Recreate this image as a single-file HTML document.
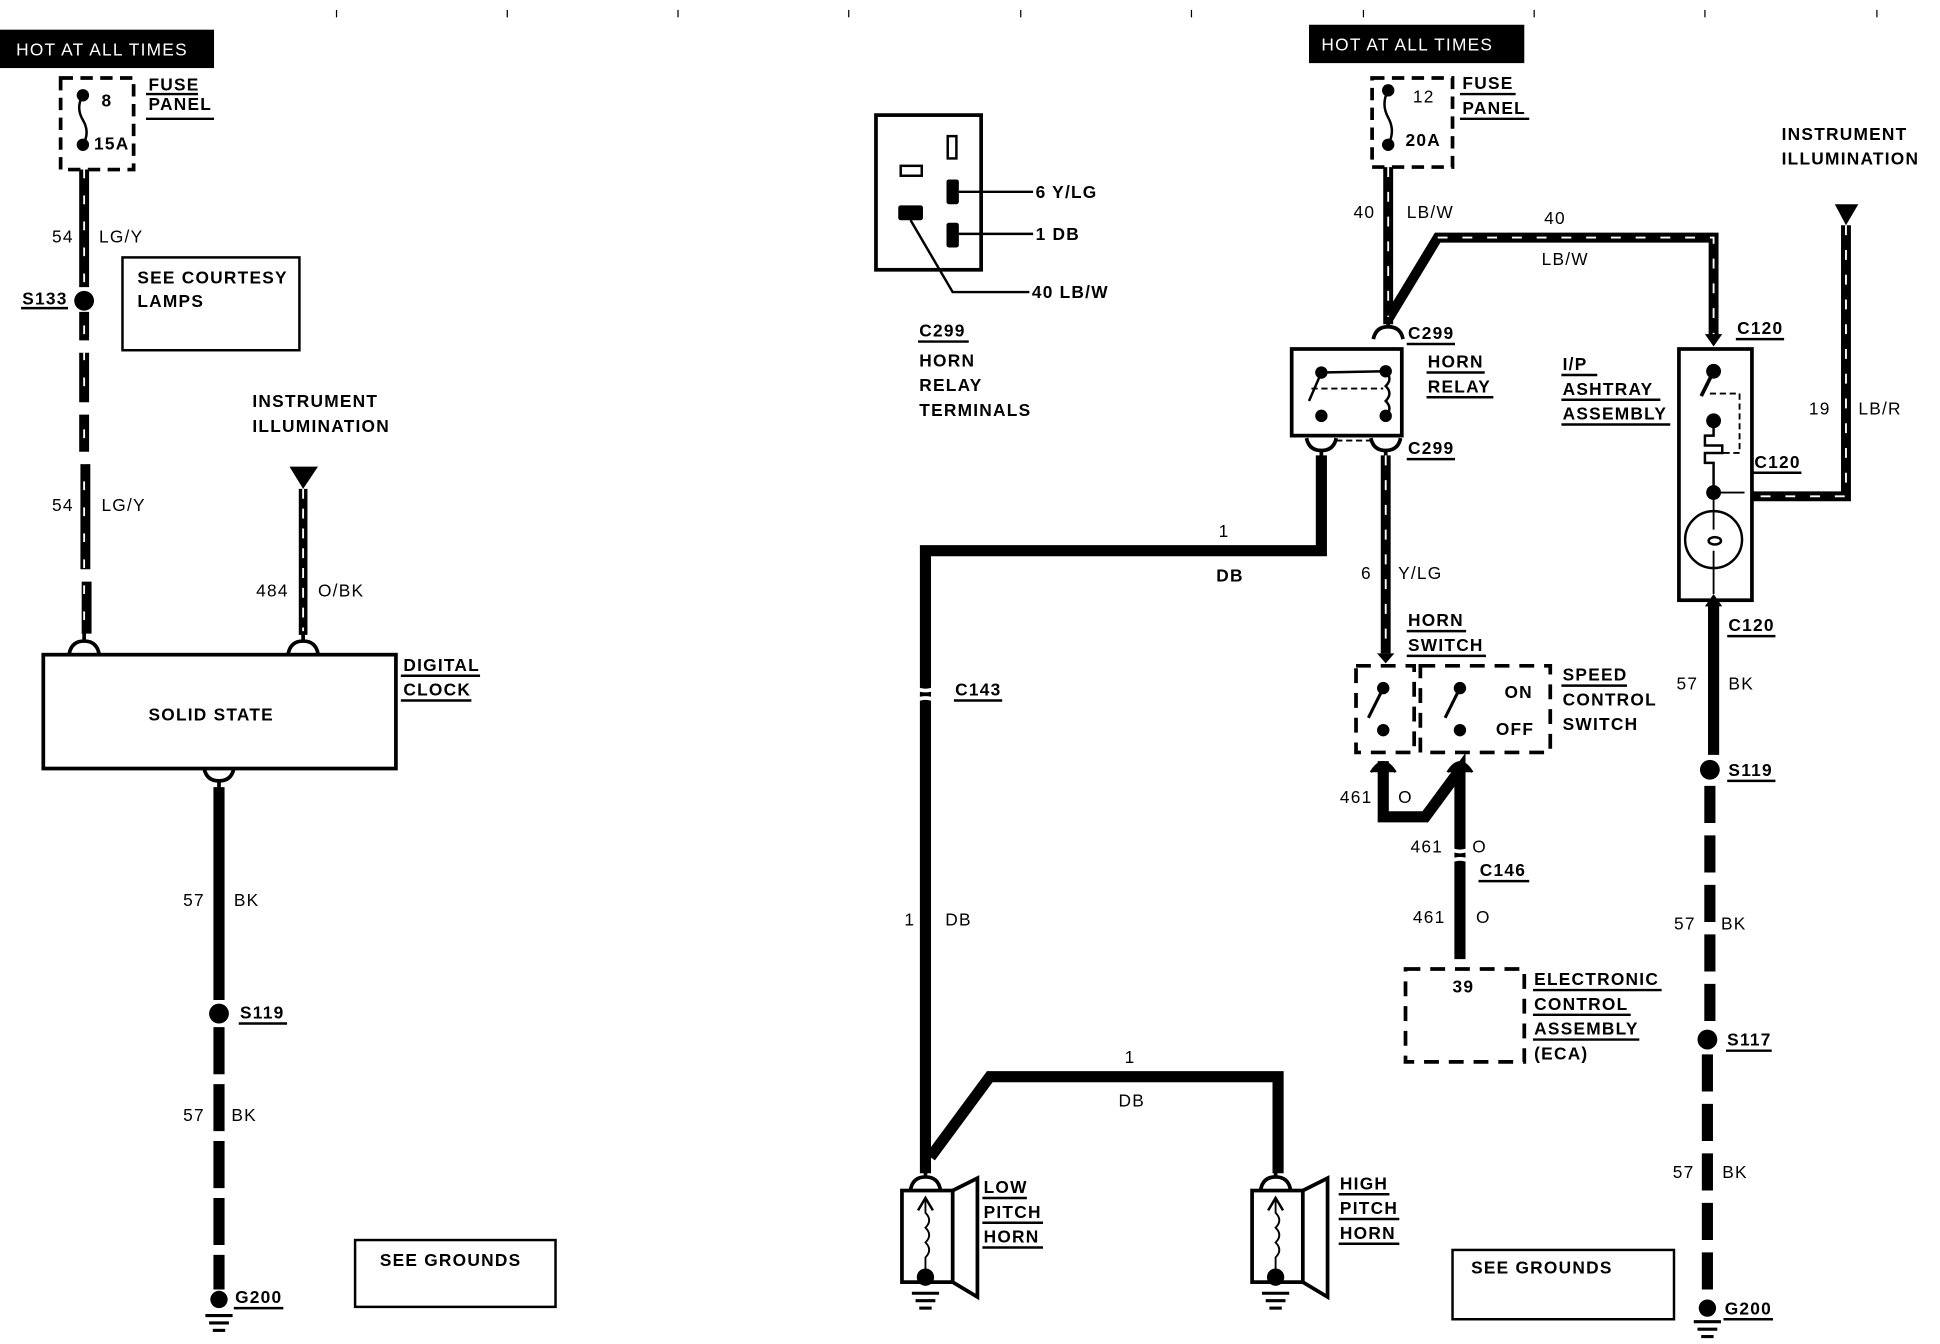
<!DOCTYPE html>
<html><head><meta charset="utf-8"><style>
html,body{margin:0;padding:0;background:#fff;width:1940px;height:1344px;overflow:hidden}
svg{display:block}
text{font-family:"Liberation Sans",Arial,sans-serif;font-weight:bold;font-size:14px;fill:#000;letter-spacing:1px}
.n{font-weight:normal}
</style></head><body>
<svg width="1940" height="1344" viewBox="0 0 1568 1086" preserveAspectRatio="none" xmlns="http://www.w3.org/2000/svg">
<defs>
<g id="gnd"><line x1="-11" y1="0" x2="11" y2="0" stroke="#000" stroke-width="2.5"/><line x1="-8" y1="6" x2="8" y2="6" stroke="#000" stroke-width="2.5"/><line x1="-5" y1="12" x2="5" y2="12" stroke="#000" stroke-width="2.5"/></g>
<path id="conn" d="M-12,6 Q-10,-4 0,-4 Q10,-4 12,6 M0,-4 L0,-12" fill="none" stroke="#000" stroke-width="3"/>
<path id="connu" d="M-12,-6 Q-10,4 0,4 Q10,4 12,-6 M0,4 L0,12" fill="none" stroke="#000" stroke-width="3"/>
</defs>
<g stroke="#000" stroke-width="1">
<line x1="272" y1="8" x2="272" y2="14"/><line x1="410" y1="8" x2="410" y2="14"/><line x1="548" y1="8" x2="548" y2="14"/><line x1="686" y1="8" x2="686" y2="14"/><line x1="825" y1="8" x2="825" y2="14"/><line x1="963" y1="8" x2="963" y2="14"/><line x1="1102" y1="8" x2="1102" y2="14"/><line x1="1240" y1="8" x2="1240" y2="14"/><line x1="1378" y1="8" x2="1378" y2="14"/><line x1="1517" y1="8" x2="1517" y2="14"/>
</g>

<!-- LEFT -->
<rect x="0" y="24" width="173" height="31" fill="#000"/>
<text x="13" y="45" style="fill:#fff" class="n">HOT AT ALL TIMES</text>
<rect x="49" y="63" width="59" height="74" fill="none" stroke="#000" stroke-width="3" stroke-dasharray="10 6"/>
<circle cx="67" cy="77" r="5"/><circle cx="67" cy="117" r="5"/>
<path d="M67,77 q-6,10 0,20 q6,10 0,20" fill="none" stroke="#000" stroke-width="2"/>
<text x="82" y="86">8</text><text x="76" y="121">15A</text>
<text x="120" y="73">FUSE</text><text x="120" y="89">PANEL</text>
<line x1="118" y1="76" x2="160" y2="76" stroke="#000" stroke-width="2"/><line x1="118" y1="96" x2="173" y2="96" stroke="#000" stroke-width="2"/>
<line x1="68" y1="137" x2="68" y2="232" stroke="#000" stroke-width="8"/>
<line x1="68" y1="252" x2="68" y2="275" stroke="#000" stroke-width="8"/>
<line x1="68" y1="285" x2="68" y2="325" stroke="#000" stroke-width="8"/>
<line x1="68" y1="335" x2="68" y2="365" stroke="#000" stroke-width="8"/>
<line x1="69" y1="375" x2="69" y2="460" stroke="#000" stroke-width="8"/>
<line x1="70" y1="470" x2="70" y2="512" stroke="#000" stroke-width="8"/>
<line x1="68" y1="137" x2="68" y2="512" stroke="#fff" stroke-width="1.5" stroke-dasharray="7 14"/>
<circle cx="68" cy="243" r="8"/>
<text x="42" y="196" class="n">54</text><text x="80" y="196" class="n">LG/Y</text>
<text x="18" y="246">S133</text><line x1="17" y1="249" x2="55" y2="249" stroke="#000" stroke-width="2"/>
<text x="42" y="413" class="n">54</text><text x="82" y="413" class="n">LG/Y</text>
<rect x="99" y="208" width="143" height="75" fill="none" stroke="#000" stroke-width="2"/>
<text x="111" y="229">SEE COURTESY</text><text x="111" y="248">LAMPS</text>
<text x="204" y="329">INSTRUMENT</text><text x="204" y="349">ILLUMINATION</text>
<path d="M234,377 L257,377 L245,395 Z"/>
<line x1="245" y1="395" x2="245" y2="513" stroke="#000" stroke-width="7"/>
<line x1="245" y1="395" x2="245" y2="513" stroke="#fff" stroke-width="1.5" stroke-dasharray="8 8"/>
<text x="207" y="482" class="n">484</text><text x="257" y="482" class="n">O/BK</text>
<use href="#conn" x="68" y="522"/><use href="#conn" x="245" y="522"/>
<rect x="35" y="529" width="285" height="92" fill="none" stroke="#000" stroke-width="3"/>
<text x="120" y="582">SOLID STATE</text>
<text x="326" y="542">DIGITAL</text><text x="326" y="562">CLOCK</text>
<line x1="324" y1="546" x2="388" y2="546" stroke="#000" stroke-width="2"/><line x1="324" y1="566" x2="381" y2="566" stroke="#000" stroke-width="2"/>
<use href="#connu" x="177" y="627"/>
<line x1="177" y1="636" x2="177" y2="808" stroke="#000" stroke-width="9"/>
<text x="148" y="732" class="n">57</text><text x="189" y="732" class="n">BK</text>
<circle cx="177" cy="819" r="8"/>
<text x="194" y="823">S119</text><line x1="193" y1="827" x2="232" y2="827" stroke="#000" stroke-width="2"/>
<line x1="177" y1="830" x2="177" y2="1042" stroke="#000" stroke-width="9" stroke-dasharray="38 8"/>
<text x="148" y="906" class="n">57</text><text x="187" y="906" class="n">BK</text>
<circle cx="177" cy="1050" r="7"/>
<use href="#gnd" x="177" y="1063"/>
<text x="190" y="1053">G200</text><line x1="189" y1="1057" x2="229" y2="1057" stroke="#000" stroke-width="2"/>
<rect x="287" y="1002" width="162" height="54" fill="none" stroke="#000" stroke-width="2"/>
<text x="307" y="1023">SEE GROUNDS</text>

<!-- C299 terminals -->
<rect x="708" y="93" width="85" height="125" fill="none" stroke="#000" stroke-width="3"/>
<rect x="728" y="134" width="17" height="8" fill="none" stroke="#000" stroke-width="2"/>
<rect x="766" y="110" width="7" height="18" fill="none" stroke="#000" stroke-width="2"/>
<rect x="765" y="145" width="10" height="20" rx="2"/>
<rect x="765" y="180" width="10" height="20" rx="2"/>
<rect x="726" y="166" width="20" height="12" rx="2"/>
<line x1="775" y1="155" x2="835" y2="155" stroke="#000" stroke-width="2"/>
<line x1="775" y1="189" x2="835" y2="189" stroke="#000" stroke-width="2"/>
<path d="M736,178 L770,236 L832,236" fill="none" stroke="#000" stroke-width="2"/>
<text x="837" y="160">6 Y/LG</text><text x="837" y="194">1 DB</text><text x="834" y="241">40 LB/W</text>
<text x="743" y="272">C299</text><line x1="742" y1="276" x2="783" y2="276" stroke="#000" stroke-width="2"/>
<text x="743" y="296">HORN</text><text x="743" y="316">RELAY</text><text x="743" y="336">TERMINALS</text>

<!-- RIGHT top -->
<rect x="1058" y="20" width="174" height="31" fill="#000"/>
<text x="1068" y="41" style="fill:#fff" class="n">HOT AT ALL TIMES</text>
<rect x="1109" y="63" width="65" height="72" fill="none" stroke="#000" stroke-width="3" stroke-dasharray="10 6"/>
<circle cx="1122" cy="73" r="5"/><circle cx="1122" cy="117" r="5"/>
<path d="M1122,73 q-6,11 0,22 q6,11 0,22" fill="none" stroke="#000" stroke-width="2"/>
<text x="1142" y="83" class="n">12</text><text x="1136" y="118">20A</text>
<text x="1182" y="72">FUSE</text><text x="1182" y="92">PANEL</text>
<line x1="1180" y1="76" x2="1225" y2="76" stroke="#000" stroke-width="2"/><line x1="1180" y1="96" x2="1236" y2="96" stroke="#000" stroke-width="2"/>
<path d="M1122,135 L1122,262 M1122,258 L1162,192 L1385,192 L1385,272" fill="none" stroke="#000" stroke-width="8"/>
<path d="M1122,135 L1122,262 M1162,192 L1385,192 L1385,272" fill="none" stroke="#fff" stroke-width="1.5" stroke-dasharray="8 12"/>
<text x="1094" y="176" class="n">40</text><text x="1137" y="176" class="n">LB/W</text>
<text x="1248" y="181" class="n">40</text><text x="1246" y="214" class="n">LB/W</text>
<use href="#connu" x="1122" y="268" transform="rotate(180 1122 268)"/>
<text x="1138" y="274">C299</text><line x1="1137" y1="278" x2="1176" y2="278" stroke="#000" stroke-width="2"/>
<rect x="1044" y="282" width="89" height="70" fill="none" stroke="#000" stroke-width="3"/>
<circle cx="1068" cy="301" r="5"/><circle cx="1120" cy="300" r="5"/><circle cx="1068" cy="336" r="5"/><circle cx="1120" cy="336" r="5"/>
<line x1="1068" y1="301" x2="1120" y2="300" stroke="#000" stroke-width="2"/>
<line x1="1068" y1="301" x2="1058" y2="324" stroke="#000" stroke-width="2"/>
<line x1="1060" y1="314" x2="1118" y2="314" stroke="#000" stroke-width="1.5" stroke-dasharray="5 3"/>
<path d="M1120,300 q6,6 0,12 q6,6 0,12 q6,6 0,12" fill="none" stroke="#000" stroke-width="2"/>
<text x="1154" y="297">HORN</text><text x="1154" y="317">RELAY</text>
<line x1="1153" y1="301" x2="1200" y2="301" stroke="#000" stroke-width="2"/><line x1="1153" y1="321" x2="1207" y2="321" stroke="#000" stroke-width="2"/>
<use href="#connu" x="1068" y="360"/><use href="#connu" x="1120" y="360"/>
<line x1="1080" y1="356" x2="1108" y2="356" stroke="#000" stroke-width="1.5" stroke-dasharray="5 3"/>
<text x="1138" y="367">C299</text><line x1="1137" y1="371" x2="1176" y2="371" stroke="#000" stroke-width="2"/>

<!-- DB horn wire -->
<path d="M1068,368 L1068,445 L748,445 L748,948" fill="none" stroke="#000" stroke-width="9"/>
<text x="985" y="434" class="n">1</text><text x="983" y="470">DB</text>
<path d="M740,556 q8,4 16,0 M740,566 q8,-4 16,0" fill="none" stroke="#fff" stroke-width="3"/>
<text x="772" y="562">C143</text><line x1="771" y1="566" x2="810" y2="566" stroke="#000" stroke-width="2"/>
<text x="731" y="748" class="n">1</text><text x="764" y="748" class="n">DB</text>
<path d="M752,935 L800,870 L1033,870 L1033,948" fill="none" stroke="#000" stroke-width="9"/>
<text x="909" y="859" class="n">1</text><text x="904" y="894" class="n">DB</text>
<!-- horns -->
<g id="horn">
<use href="#conn" x="748" y="955"/>
<rect x="729" y="962" width="41" height="74" fill="none" stroke="#000" stroke-width="3"/>
<path d="M770,962 L790,952 L790,1048 L770,1036" fill="none" stroke="#000" stroke-width="3"/>
<path d="M748,970 L748,980 q6,6 0,12 q6,6 0,12 q6,6 0,12 L748,1030" fill="none" stroke="#000" stroke-width="1.5"/>
<path d="M742,978 L748,968 L754,978" fill="none" stroke="#000" stroke-width="2"/>
<circle cx="748" cy="1032" r="7"/>
<use href="#gnd" x="748" y="1045"/>
</g>
<use href="#horn" x="283"/>
<text x="795" y="964">LOW</text><text x="795" y="984">PITCH</text><text x="795" y="1004">HORN</text>
<line x1="794" y1="968" x2="830" y2="968" stroke="#000" stroke-width="2"/><line x1="794" y1="988" x2="843" y2="988" stroke="#000" stroke-width="2"/><line x1="794" y1="1008" x2="843" y2="1008" stroke="#000" stroke-width="2"/>
<text x="1083" y="961">HIGH</text><text x="1083" y="981">PITCH</text><text x="1083" y="1001">HORN</text>
<line x1="1082" y1="965" x2="1123" y2="965" stroke="#000" stroke-width="2"/><line x1="1082" y1="985" x2="1131" y2="985" stroke="#000" stroke-width="2"/><line x1="1082" y1="1005" x2="1131" y2="1005" stroke="#000" stroke-width="2"/>

<!-- Y/LG wire to horn switch -->
<line x1="1120" y1="368" x2="1120" y2="528" stroke="#000" stroke-width="8"/>
<line x1="1120" y1="368" x2="1120" y2="528" stroke="#fff" stroke-width="1.5" stroke-dasharray="8 12"/>
<path d="M1113,528 L1127,528 L1120,536 Z"/>
<text x="1100" y="468" class="n">6</text><text x="1130" y="468" class="n">Y/LG</text>
<text x="1138" y="506">HORN</text><text x="1138" y="526">SWITCH</text>
<line x1="1137" y1="510" x2="1185" y2="510" stroke="#000" stroke-width="2"/><line x1="1137" y1="530" x2="1201" y2="530" stroke="#000" stroke-width="2"/>
<rect x="1096" y="538" width="47" height="70" fill="none" stroke="#000" stroke-width="3" stroke-dasharray="12 8"/>
<rect x="1148" y="538" width="105" height="70" fill="none" stroke="#000" stroke-width="3" stroke-dasharray="12 8"/>
<circle cx="1118" cy="556" r="5"/><circle cx="1118" cy="590" r="5"/><line x1="1118" y1="556" x2="1106" y2="580" stroke="#000" stroke-width="2.5"/>
<circle cx="1180" cy="556" r="5"/><circle cx="1180" cy="590" r="5"/><line x1="1180" y1="556" x2="1168" y2="580" stroke="#000" stroke-width="2.5"/>
<text x="1216" y="564">ON</text><text x="1209" y="594">OFF</text>
<text x="1263" y="550">SPEED</text><text x="1263" y="570">CONTROL</text><text x="1263" y="590">SWITCH</text>
<line x1="1262" y1="554" x2="1315" y2="554" stroke="#000" stroke-width="2"/>
<path d="M1118,615 L1118,660 L1152,660 L1180,622 L1180,775" fill="none" stroke="#000" stroke-width="9"/>
<path d="M1108,624 Q1118,608 1128,624 M1170,624 Q1180,608 1190,624" fill="#000" stroke="#000" stroke-width="2"/>
<path d="M1172,686 q8,4 16,0 M1172,696 q8,-4 16,0" fill="none" stroke="#fff" stroke-width="3"/>
<text x="1083" y="649" class="n">461</text><text x="1130" y="649" class="n">O</text>
<text x="1140" y="689" class="n">461</text><text x="1190" y="689" class="n">O</text>
<text x="1196" y="708">C146</text><line x1="1195" y1="712" x2="1236" y2="712" stroke="#000" stroke-width="2"/>
<text x="1142" y="746" class="n">461</text><text x="1193" y="746" class="n">O</text>
<rect x="1136" y="783" width="96" height="75" fill="none" stroke="#000" stroke-width="3" stroke-dasharray="12 8"/>
<text x="1174" y="802">39</text>
<text x="1240" y="796">ELECTRONIC</text><text x="1240" y="816">CONTROL</text><text x="1240" y="836">ASSEMBLY</text><text x="1240" y="856">(ECA)</text>
<line x1="1239" y1="800" x2="1343" y2="800" stroke="#000" stroke-width="2"/><line x1="1239" y1="820" x2="1318" y2="820" stroke="#000" stroke-width="2"/><line x1="1239" y1="840" x2="1325" y2="840" stroke="#000" stroke-width="2"/>

<!-- ashtray -->
<path d="M1378,270 L1392,270 L1385,280 Z"/>
<text x="1404" y="270">C120</text><line x1="1403" y1="274" x2="1442" y2="274" stroke="#000" stroke-width="2"/>
<rect x="1357" y="282" width="59" height="203" fill="none" stroke="#000" stroke-width="3"/>
<circle cx="1385" cy="300" r="6"/><line x1="1385" y1="300" x2="1375" y2="320" stroke="#000" stroke-width="3"/>
<path d="M1382,318 L1406,318 L1406,366 L1392,366" fill="none" stroke="#000" stroke-width="1.5" stroke-dasharray="5 3"/>
<circle cx="1385" cy="340" r="6"/>
<path d="M1385,340 L1385,352 L1378,352 L1378,360 L1392,360 L1392,366 L1378,366 L1378,374 L1385,374 L1385,398" fill="none" stroke="#000" stroke-width="2"/>
<circle cx="1385" cy="398" r="6"/><line x1="1385" y1="398" x2="1410" y2="398" stroke="#000" stroke-width="1.5"/>
<circle cx="1385" cy="436" r="23" fill="none" stroke="#000" stroke-width="2"/>
<path d="M1385,398 L1385,428 M1385,445 L1385,480" stroke="#000" stroke-width="1.5"/>
<ellipse cx="1386" cy="437" rx="5" ry="3" fill="none" stroke="#000" stroke-width="2"/>
<text x="1263" y="299">I/P</text><text x="1263" y="319">ASHTRAY</text><text x="1263" y="339">ASSEMBLY</text>
<line x1="1262" y1="303" x2="1291" y2="303" stroke="#000" stroke-width="2"/><line x1="1262" y1="323" x2="1342" y2="323" stroke="#000" stroke-width="2"/><line x1="1262" y1="343" x2="1350" y2="343" stroke="#000" stroke-width="2"/>
<text x="1440" y="113">INSTRUMENT</text><text x="1440" y="133">ILLUMINATION</text>
<path d="M1483,165 L1502,165 L1492,182 Z"/>
<path d="M1492,182 L1492,401 L1416,401" fill="none" stroke="#000" stroke-width="8"/>
<path d="M1492,182 L1492,401 L1416,401" fill="none" stroke="#fff" stroke-width="1.5" stroke-dasharray="8 12"/>
<text x="1462" y="335" class="n">19</text><text x="1502" y="335" class="n">LB/R</text>
<text x="1418" y="378">C120</text><line x1="1417" y1="382" x2="1456" y2="382" stroke="#000" stroke-width="2"/>
<path d="M1378,490 L1385,480 L1392,490 Z"/>
<line x1="1385" y1="488" x2="1385" y2="610" stroke="#000" stroke-width="9"/>
<text x="1397" y="510">C120</text><line x1="1396" y1="514" x2="1435" y2="514" stroke="#000" stroke-width="2"/>
<text x="1355" y="557" class="n">57</text><text x="1397" y="557" class="n">BK</text>
<circle cx="1382" cy="622" r="8"/>
<text x="1397" y="627">S119</text><line x1="1396" y1="631" x2="1435" y2="631" stroke="#000" stroke-width="2"/>
<line x1="1382" y1="635" x2="1382" y2="830" stroke="#000" stroke-width="9" stroke-dasharray="30 10"/>
<text x="1353" y="751" class="n">57</text><text x="1391" y="751" class="n">BK</text>
<circle cx="1380" cy="840" r="8"/>
<text x="1396" y="845">S117</text><line x1="1395" y1="849" x2="1432" y2="849" stroke="#000" stroke-width="2"/>
<line x1="1380" y1="852" x2="1380" y2="1046" stroke="#000" stroke-width="9" stroke-dasharray="30 10"/>
<text x="1352" y="952" class="n">57</text><text x="1392" y="952" class="n">BK</text>
<circle cx="1380" cy="1057" r="7"/>
<use href="#gnd" x="1380" y="1068"/>
<text x="1394" y="1062">G200</text><line x1="1393" y1="1066" x2="1433" y2="1066" stroke="#000" stroke-width="2"/>
<rect x="1174" y="1010" width="179" height="56" fill="none" stroke="#000" stroke-width="2"/>
<text x="1189" y="1029">SEE GROUNDS</text>
</svg>
</body></html>
